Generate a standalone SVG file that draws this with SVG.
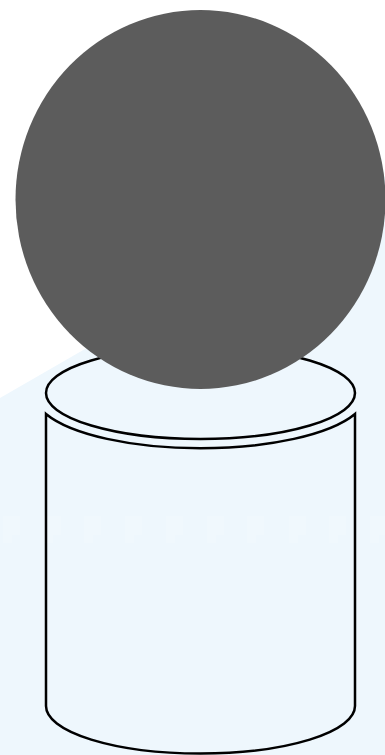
<svg xmlns="http://www.w3.org/2000/svg" width="385" height="755" viewBox="0 0 385 755">
<defs><path id="t" d="M0 516h17v19h-8v8h-9z"/></defs>
<style>.o{fill:none;stroke:#000;stroke-width:2.500}.f{fill:#fff;opacity:.16}</style>
<rect width="385" height="755" fill="#fff"/>
<polygon id="bg" points="0,398 385,176 385,755 0,755" fill="#eef7fd"/>
<g id="band" class="f">
<use href="#t" x="3"/><use href="#t" x="44"/><use href="#t" x="84"/><use href="#t" x="125"/><use href="#t" x="166"/><use href="#t" x="207"/><use href="#t" x="247"/><use href="#t" x="289"/><use href="#t" x="329"/><use href="#t" x="370"/>
</g>
<g id="cylinder">
<ellipse class="o" cx="200.500" cy="393" rx="154.500" ry="46"/>
<path class="o" d="M46 706V414A166 54 0 0 0 355 414V706A154.500 47.500 0 0 1 46 706Z"/>
</g>
<g id="circle"><ellipse cx="200.500" cy="199.500" rx="185" ry="189.500" fill="#5c5c5c"/></g>
</svg>
